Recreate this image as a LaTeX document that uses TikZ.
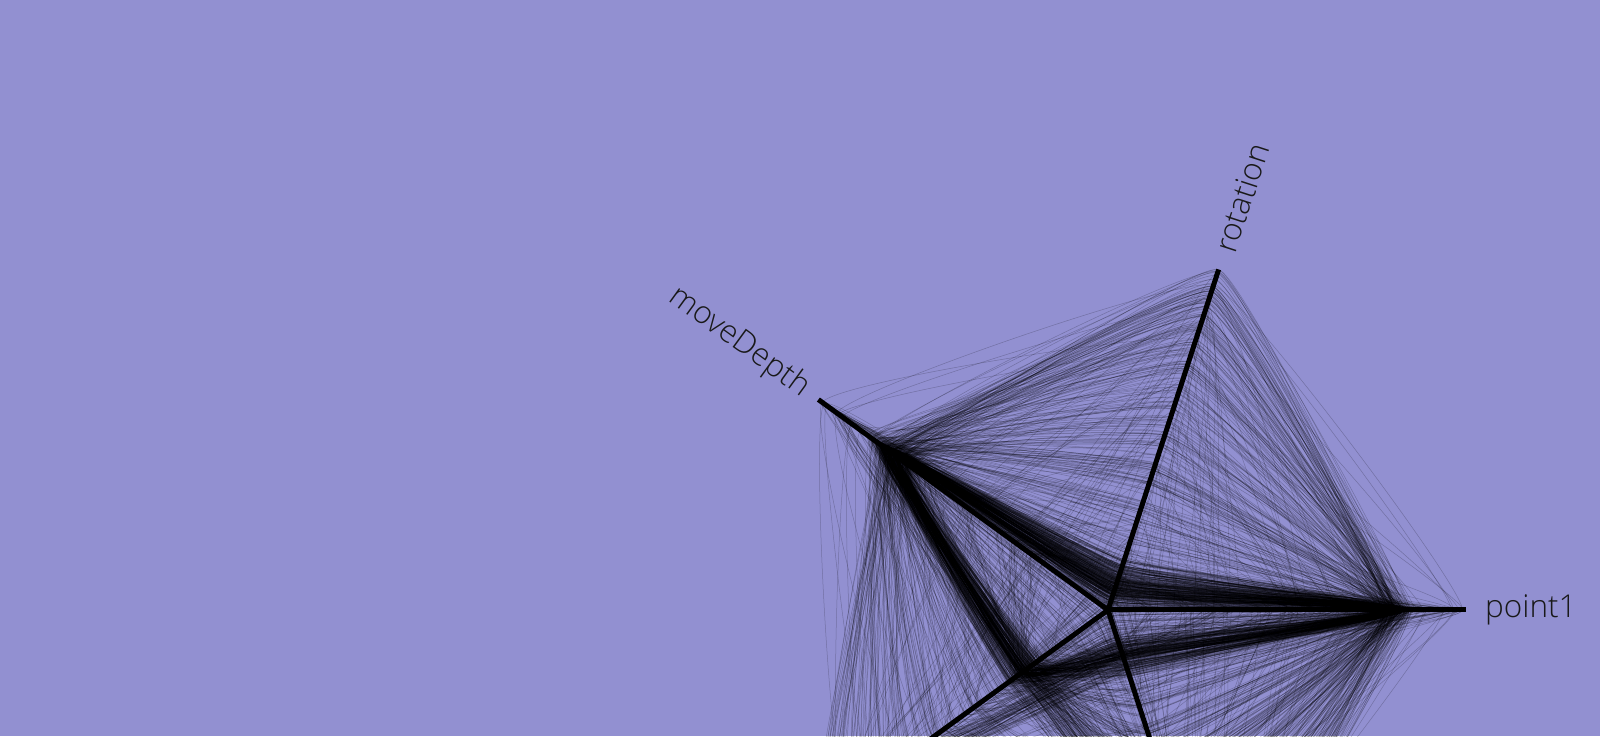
\documentclass[tikz,border=0pt]{standalone}
\usepackage{fontspec}
\setmainfont{Open Sans}[UprightFont=* Light]
\definecolor{bg}{RGB}{146,144,209}
\tikzset{
  axisline/.style={line width=5pt, line cap=butt, draw=black},
  dataline/.style={line width=0.5pt, draw=black, draw opacity=0.22},
  axislabel/.style={font=\fontsize{31.5}{38}\selectfont, inner sep=0pt, text=black!90}
}
\begin{document}
\begin{tikzpicture}[x=1pt,y=1pt]
\useasboundingbox (0,0) rectangle (1600,736);
\fill[bg] (0,0) rectangle (1600,736);
\begin{scope}
\clip (0,0) rectangle (1600,736);
\begin{scope}[shift={(1108,126)}]
\coordinate (C) at (0,0);
\pgfmathsetseed{7}
\foreach \i in {1,...,700}{
  \pgfmathsetmacro\ra{358*min(1,max(0.01, rnd<0.66 ? 0.80+0.03*(rand+rand) : rnd))}
  \pgfmathsetmacro\rb{358*min(1,max(0.01, rnd<0.55 ? 0.07+0.04*(rand+rand) : rnd))}
  \pgfmathsetmacro\rc{358*min(1,max(0.01, rnd<0.70 ? 0.75+0.04*(rand+rand) : rnd))}
  \pgfmathsetmacro\rd{358*min(1,max(0.01, rnd<0.58 ? 0.29+0.035*(rand+rand) : rnd))}
  \pgfmathsetmacro\re{358*min(1,max(0.01, rnd<0.45 ? 0.13+0.035*(rand+rand) : rnd))}
  \coordinate (pa) at (0:\ra);
  \coordinate (pb) at (72:\rb);
  \coordinate (pc) at (144:\rc);
  \coordinate (pd) at (216:\rd);
  \coordinate (pe) at (288:\re);
  \draw[dataline] plot[smooth cycle, tension=0.18] coordinates {(pa) (pb) (pc) (pd) (pe)};
}
\coordinate (E1) at (0:358);
\coordinate (E2) at (72:358);
\coordinate (E3) at (144:358);
\coordinate (E4) at (216:358);
\coordinate (E5) at (288:358);
\draw[axisline] (C) -- (E1);
\draw[axisline] (C) -- (E2);
\draw[axisline] (C) -- (E3);
\draw[axisline] (C) -- (E4);
\draw[axisline] (C) -- (E5);
\node[axislabel, anchor=west] (L1) at (0:377) {point1};
\node[axislabel, anchor=west, rotate=72] (L2) at (72:377) {rotation};
\node[axislabel, anchor=east, rotate=-36] (L3) at (144:373) {moveDepth};
\end{scope}
\end{scope}
\end{tikzpicture}
\end{document}
